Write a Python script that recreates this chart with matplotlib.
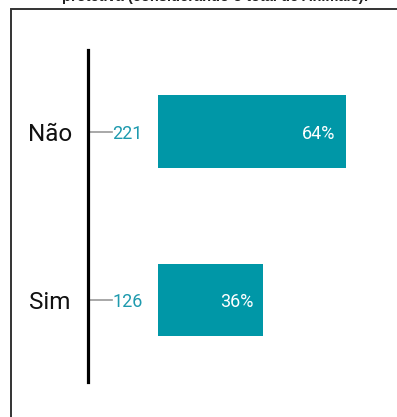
import matplotlib
matplotlib.use("Agg")
import matplotlib.pyplot as plt
from matplotlib.patches import Rectangle

# respostas
categories = ["Sim", "Não"]
counts = [126, 221]
percents = [36, 64]

BAR = "#0097A7"
NUM = "#1E9AAE"

W, H = 397, 417
fig = plt.figure(figsize=(W / 100, H / 100), dpi=100)

# moldura da caixa do gráfico (continua além da borda direita/inferior)
fig.patches.append(Rectangle((11 / W, -0.1), 1.2, (H - 9) / H + 0.1,
                             transform=fig.transFigure, fill=False,
                             edgecolor="#333333", linewidth=1.4))

# título (só a parte de baixo aparece)
fig.text(215 / W, (H - 1.5) / H,
         "protetiva (considerando o total de Animais):",
         ha="center", va="baseline", fontsize=10.5, fontweight="bold",
         family="Liberation Sans", color="#222222")

ax = fig.add_axes([88 / W, 35 / H, (W - 88) / W, 332 / H])
scale = 2.93  # px por ponto percentual
ax.set_xlim(-70 / scale, (W - 158) / scale)
ax.set_ylim(-0.487, 1.484)

y = list(range(len(categories)))
ax.barh(y, percents, height=0.433, color=BAR, left=0)

x0 = ax.get_xlim()[0]
for yi, cat, n, p in zip(y, categories, counts, percents):
    ax.plot([x0, x0 + 8.3], [yi, yi], color="#999999", linewidth=1.2,
            clip_on=False)
    ax.text(x0 + 8.4, yi, str(n), ha="left", va="center_baseline", color=NUM,
            fontsize=13, family="Roboto")
    ax.text(p - 3.5, yi, f"{p}%", ha="right", va="center_baseline",
            color="white", fontsize=13, family="Roboto")
    ax.text(x0 - 38 / scale, yi, cat, ha="center", va="center_baseline",
            color="#111111", fontsize=17.5, family="Roboto")

for s in ["top", "right", "bottom"]:
    ax.spines[s].set_visible(False)
ax.spines["left"].set_linewidth(2.3)
ax.spines["left"].set_color("black")
ax.set_xticks([])
ax.set_yticks([])

fig.savefig("out.png", dpi=100)
